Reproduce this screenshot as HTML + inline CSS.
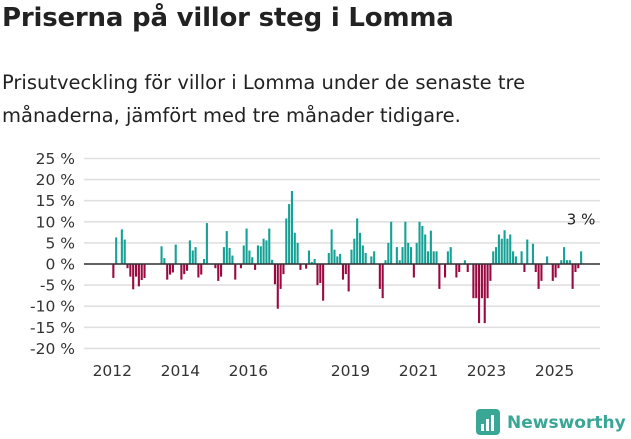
<!DOCTYPE html>
<html><head><meta charset="utf-8"><style>
body{margin:0;width:631px;height:439px;background:#fff;font-family:"Liberation Sans","DejaVu Sans",sans-serif;color:#222;overflow:hidden}
#title{position:absolute;left:2px;top:3px;font-size:26px;font-weight:bold;margin:0;font-family:"DejaVu Sans",sans-serif;letter-spacing:-0.2px}
#sub{position:absolute;left:2px;top:66px;font-size:19.5px;line-height:33px;font-family:"DejaVu Sans",sans-serif;width:620px}
svg{position:absolute;left:0;top:0}
</style></head><body>
<h1 id="title">Priserna på villor steg i Lomma</h1>
<div id="sub">Prisutveckling för villor i Lomma under de senaste tre månaderna, jämfört med tre månader tidigare.</div>
<svg id="chart" width="631" height="439"></svg>
<script>
const values=[-3.3,6.3,0,8.2,5.8,-1,-3,-6,-3,-5.3,-3.8,-3.3,0,0,0,0,0,4.2,1.4,-3.7,-2.5,-2,4.6,0,-3.7,-2.4,-1.6,5.6,3.2,4,-3.2,-2.5,1.2,9.7,0,0,-1,-4,-3,4,7.8,3.8,2,-3.7,0,-1,4.4,8.4,3.2,1.6,-1.4,4.4,4.2,6,5.6,8.4,1,-4.8,-10.6,-5.9,-2.4,10.8,14.2,17.3,7.4,5,-1.4,0,-1.1,3.2,0.5,1.2,-5,-4.5,-8.7,0,2.6,8.2,3.4,1.8,2.4,-3.7,-2.4,-6.5,3.4,6,10.8,7.4,4.4,2.6,0,1.8,3,0,-5.9,-8.1,0.9,5,10,0,4,0.9,4,10,5,4,-3.2,5,10,9,7,3,7.9,3,3,-5.9,0,-3.2,3,4,0,-3.2,-1.9,0,0.9,-1.9,0,-8.1,-8.1,-14,-8.1,-14,-8.1,-4,3,4,7,6,8,6,7,3,1.8,0,3,-1.9,5.8,0,4.8,-1.9,-5.9,-4,0,1.8,0,-4,-3.2,-1,0.9,4,0.9,0.9,-5.9,-1.9,-1,3];
const startYear=2012;
const yTicks=[25,20,15,10,5,0,-5,-10,-15,-20];
const yearTicks=[2012,2014,2016,2019,2021,2023,2025];
const NS='http://www.w3.org/2000/svg';
const svg=document.getElementById('chart');
const y=v=>264-v*4.22;
const x=m=>112.3+m*2.835;
function mk(t,a){const e=document.createElementNS(NS,t);for(const k in a)e.setAttribute(k,a[k]);svg.appendChild(e);return e;}
yTicks.forEach(t=>{
  const g=mk('line',{x1:84,x2:600,y1:y(t),y2:y(t),stroke:'#e0e0e0','stroke-width':1.6});
  
  
  const l=mk('text',{x:75,y:y(t)+5.5,'text-anchor':'end','font-size':15.5,fill:'#333','font-family':'DejaVu Sans, sans-serif'});
  l.textContent=t+' %';
  
  
});
values.forEach((v,i)=>{
  if(v===0)return;
  const b=mk('rect',{x:x(i),width:2.1,y:Math.min(y(v),y(0)),height:Math.abs(y(v)-y(0)),fill:v>0?'#15a195':'#9a0a41'});
  
  
});
const z=mk('line',{x1:84,x2:600,y1:y(0),y2:y(0),stroke:'#333','stroke-width':1.6});


yearTicks.forEach(yr=>{
  const t=mk('text',{x:x((yr-startYear)*12),y:376,'text-anchor':'middle','font-size':15.5,fill:'#333','font-family':'DejaVu Sans, sans-serif'});
  t.textContent=yr;
  
  
});
const last=values.length-1;
const lab=mk('text',{x:x(last)+1,y:y(values[last])-27,'text-anchor':'middle','font-size':15,fill:'#222','font-family':'DejaVu Sans, sans-serif'});
lab.textContent=values[last]+' %';


const lg=mk('rect',{x:476,y:409,width:24,height:26,rx:4,fill:'#3aa796'});


[[481,424,3,7],[486,419,3,12],[491,415,3,16]].forEach(r=>{const e=mk('rect',{x:r[0],y:r[1],width:r[2],height:r[3],fill:'#fff'});});
const lt=mk('text',{x:507,y:428,'font-size':17,'font-weight':'bold',fill:'#3aa796','font-family':'DejaVu Sans, sans-serif'});
lt.textContent='Newsworthy';


</script>
</body></html>
